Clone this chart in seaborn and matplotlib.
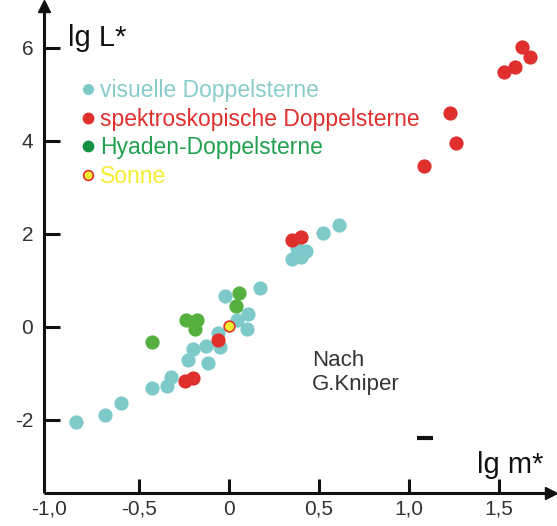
import numpy as np
import pandas as pd
import matplotlib
matplotlib.use("Agg")
import matplotlib.pyplot as plt
from matplotlib.lines import Line2D
import seaborn as sns

sns.set_style("white")
plt.rcParams['font.family'] = ['Liberation Sans', 'DejaVu Sans']

# visuelle Doppelsterne (lg m*, lg L*)
vis_m = [-0.85, -0.69, -0.60, -0.43, -0.346, -0.324, -0.226, -0.20, -0.128, -0.115,
         -0.05, -0.06, -0.02, 0.046, 0.107, 0.10, 0.17, 0.35, 0.40, 0.385, 0.43,
         0.376, 0.52, 0.61]
vis_L = [-2.05, -1.89, -1.64, -1.31, -1.27, -1.07, -0.71, -0.48, -0.41, -0.77,
         -0.44, -0.14, 0.67, 0.16, 0.27, -0.05, 0.83, 1.46, 1.51, 1.58, 1.64,
         1.69, 2.01, 2.19]

# spektroskopische Doppelsterne
spec_m = [-0.244, -0.198, -0.06, 0.35, 0.40, 1.085, 1.23, 1.26, 1.53, 1.59, 1.63, 1.67]
spec_L = [-1.16, -1.10, -0.28, 1.87, 1.94, 3.46, 4.60, 3.95, 5.48, 5.58, 6.01, 5.81]

# Hyaden-Doppelsterne
hya_m = [-0.43, -0.24, -0.18, -0.19, 0.04, 0.057]
hya_L = [-0.32, 0.15, 0.15, -0.05, 0.45, 0.74]

# Sonne
sun_m = [0.0]
sun_L = [0.03]

xticks = [-1.0, -0.5, 0.0, 0.5, 1.0, 1.5]
xticklabels = ['-1,0', '-0,5', '0', '0,5', '1,0', '1,5']
yticks = [-2, 0, 2, 4, 6]
yticklabels = ['-2', '0', '2', '4', '6']

c_vis = '#7ecaca'
c_spec = '#e0302e'
c_hya = '#55b040'
c_sun = '#f5ee30'

fig = plt.figure(figsize=(5.57, 5.26), dpi=100)
ax = fig.add_axes([0, 0, 1, 1])

sns.scatterplot(x=vis_m, y=vis_L, color=c_vis, s=105, linewidth=0, ax=ax)
sns.scatterplot(x=spec_m, y=spec_L, color=c_spec, s=105, linewidth=0, ax=ax)
sns.scatterplot(x=hya_m, y=hya_L, color=c_hya, s=105, linewidth=0, ax=ax)
sns.scatterplot(x=sun_m, y=sun_L, color=c_sun, s=60, edgecolor=c_spec,
                linewidth=1.2, ax=ax, zorder=5)

ax.set_xlim(-1.272, 1.822)
ax.set_ylim(-4.28, 7.03)

x0, y0 = -1.025, -3.57
x_end, y_end = 1.77, 6.8
for side in ['top', 'right']:
    ax.spines[side].set_visible(False)
ax.spines['left'].set_position(('data', x0))
ax.spines['bottom'].set_position(('data', y0))
ax.spines['left'].set_bounds(y0, y_end)
ax.spines['bottom'].set_bounds(x0, x_end)
for side in ['left', 'bottom']:
    ax.spines[side].set_linewidth(2.2)
    ax.spines[side].set_color('#111111')
    ax.spines[side].set_capstyle('butt')
ax.plot([x_end + 0.02], [y0], marker='>', color='#111111', ms=9, clip_on=False)
ax.plot([x0], [y_end + 0.1], marker='^', color='#111111', ms=9, clip_on=False)

ax.set_xticks(xticks)
ax.set_xticklabels(xticklabels)
ax.set_yticks(yticks)
ax.set_yticklabels(yticklabels)
ax.tick_params(axis='y', left=True, direction='in', length=11.5, width=2.2, pad=8,
               labelsize=15, colors='#111111', labelcolor='#333333')
ax.tick_params(axis='x', bottom=True, direction='in', length=0, pad=5,
               labelsize=15, labelcolor='#333333')
# upward x tick marks drawn by hand, none at -1,0 (it sits on the y axis)
ax.vlines(xticks[1:], y0, y0 + 0.3, color='#111111', lw=2.2)
ax.grid(False)

ax.text(-0.894, 6.04, 'lg L*', fontsize=21, color='#111111', va='baseline')
ax.text(1.378, -3.14, 'lg m*', fontsize=21, color='#111111', va='baseline')
ax.text(0.46, -0.49, 'Nach\nG.Kniper', fontsize=16, color='#333333',
        va='top', linespacing=1.2)
ax.hlines(-2.39, 1.045, 1.135, color='#111111', lw=3)

handles = [
    Line2D([], [], ls='', marker='o', color=c_vis, ms=7),
    Line2D([], [], ls='', marker='o', color=c_spec, ms=7.5),
    Line2D([], [], ls='', marker='o', color='#139040', ms=7.5),
    Line2D([], [], ls='', marker='o', color=c_sun, mec=c_spec, mew=1.2, ms=7),
]
labels = ['visuelle Doppelsterne', 'spektroskopische Doppelsterne',
          'Hyaden-Doppelsterne', 'Sonne']
ax.legend(handles, labels, loc='upper left', bbox_to_anchor=(0.145, 0.850),
          frameon=False, fontsize=16.5, handlelength=0.6, handletextpad=0.25,
          labelspacing=0.25, borderpad=0, borderaxespad=0,
          labelcolor=['#88cccc', c_spec, '#22a050', c_sun])

fig.savefig('out.png', dpi=100)
